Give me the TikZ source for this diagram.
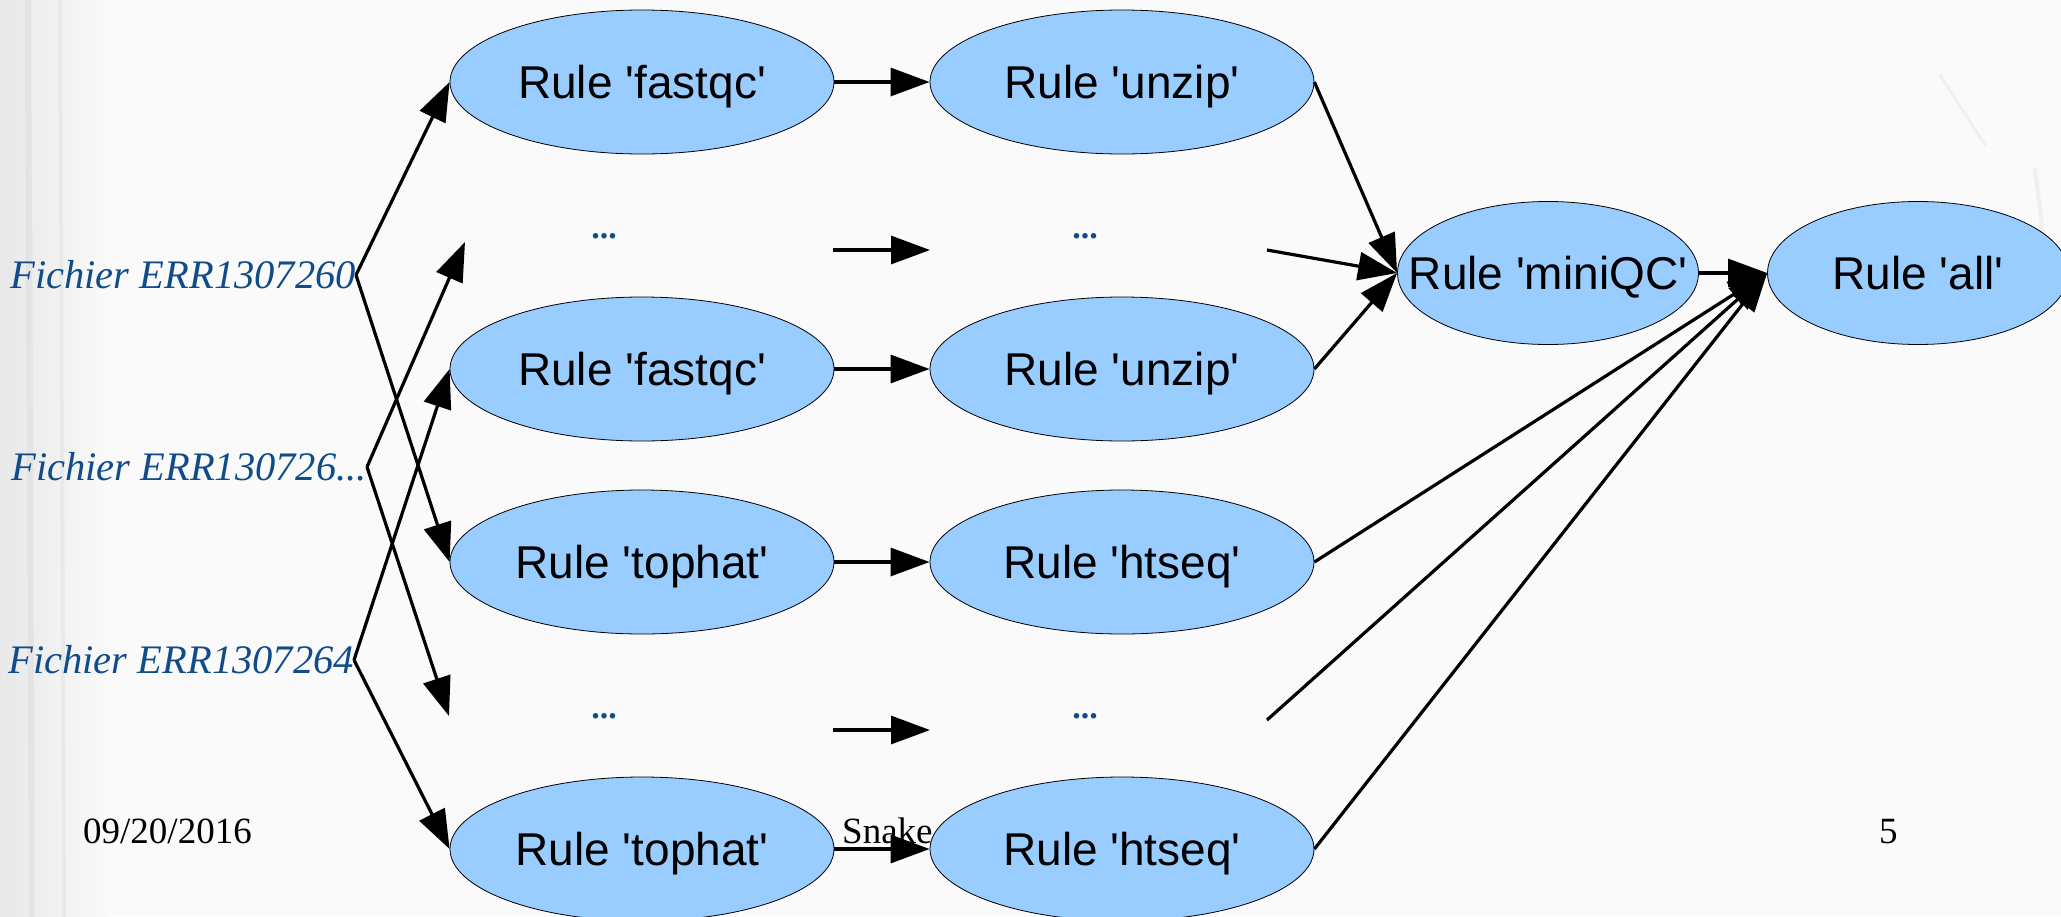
\documentclass[tikz,border=0pt]{standalone}
\usepackage{fontspec}
\setmainfont{Liberation Serif}
\newfontfamily\rulefont{Liberation Sans}
\usetikzlibrary{shapes.geometric,arrows.meta}
\definecolor{rulefill}{RGB}{153,204,255}
\definecolor{fileblue}{RGB}{17,76,138}
\definecolor{slidebg}{RGB}{250,250,250}
% centred text that never widens its ellipse
\newcommand{\rulename}[1]{\makebox[0pt]{#1}}
\begin{document}
\begin{tikzpicture}[x=1pt,y=-1pt,
  rulebox/.style={ellipse, draw=black, line width=0.8pt, fill=rulefill,
    minimum width=384pt, minimum height=144pt, inner sep=0pt,
    font=\rulefont\fontsize{46}{50}\selectfont, text height=33pt, text depth=0pt},
  endbox/.style={rulebox, minimum width=301pt, minimum height=143pt},
  filelabel/.style={font=\itshape\fontsize{40.5}{44}\selectfont, text=fileblue,
    inner sep=0pt, anchor=east},
  dotstext/.style={font=\bfseries\fontsize{34}{40}\selectfont, text=fileblue, inner sep=0pt},
  footer/.style={font=\fontsize{37}{40}\selectfont, inner sep=0pt, anchor=base west},
  link/.style={line width=3.2pt, -{Triangle[length=39pt,width=28pt]}},
  streak/.style={line width=#1, gray, opacity=0.08, line cap=round}
]
% slide background
\useasboundingbox (0,0) rectangle (2061,916);
\fill[slidebg] (0,0) rectangle (2061,916);
\shade[left color=black!9, right color=slidebg] (0,0) rectangle (110,916);
\draw[streak=6pt] (28,0) -- (32,916);
\draw[streak=4pt] (60,0) -- (64,916);
\draw[streak=3pt] (1940,75) -- (1985,145);
\draw[streak=4pt] (2035,170) -- (2045,250);

% footer
\node[footer] (date) at (83,843) {09/20/2016};
\node[footer] (title) at (842,843) {Snake};
\node[footer] (page) at (1879,843) {5};

% input files
\node[filelabel] (f1) at (356,275) {Fichier ERR1307260};
\node[filelabel] (f2) at (367,467) {Fichier ERR130726...};
\node[filelabel] (f3) at (354,660) {Fichier ERR1307264};

% rule instances
\node[rulebox] (fq1) at (642,82)  {\rulename{Rule 'fastqc'}};
\node[rulebox] (uz1) at (1122,82) {\rulename{Rule 'unzip'}};
\node[rulebox] (fq2) at (642,369)  {\rulename{Rule 'fastqc'}};
\node[rulebox] (uz2) at (1122,369) {\rulename{Rule 'unzip'}};
\node[rulebox] (th1) at (642,562)  {\rulename{Rule 'tophat'}};
\node[rulebox] (hs1) at (1122,562) {\rulename{Rule 'htseq'}};
\node[rulebox] (th2) at (642,849)  {\rulename{Rule 'tophat'}};
\node[rulebox] (hs2) at (1122,849) {\rulename{Rule 'htseq'}};
\node[endbox] (mqc) at (1548,273) {\rulename{Rule 'miniQC'}};
\node[endbox] (all) at (1918,273) {\rulename{Rule 'all'}};

% elided rule instances
\node[dotstext] (e1a) at (604,236) {...};
\node[dotstext] (e1b) at (1085,236) {...};
\node[dotstext] (e2a) at (604,716) {...};
\node[dotstext] (e2b) at (1085,716) {...};
\coordinate (e1ain) at (465,242);
\coordinate (e1aout) at (833,250);
\coordinate (e1bin) at (930,250);
\coordinate (e1bout) at (1267,250);
\coordinate (e2ain) at (449,716);
\coordinate (e2aout) at (833,730);
\coordinate (e2bin) at (930,730);
\coordinate (e2bout) at (1267,720);

% files to first rules
\draw[link] (f1.east) -- (fq1.west);
\draw[link] (f1.east) -- (th1.west);
\draw[link] (f2.east) -- (e1ain);
\draw[link] (f2.east) -- (e2ain);
\draw[link] (f3.east) -- (fq2.west);
\draw[link] (f3.east) -- (th2.west);

% second rules
\draw[link] (fq1.east) -- (uz1.west);
\draw[link] (e1aout) -- (e1bin);
\draw[link] (fq2.east) -- (uz2.west);
\draw[link] (th1.east) -- (hs1.west);
\draw[link] (e2aout) -- (e2bin);
\draw[link] (th2.east) -- (hs2.west);

% aggregation
\draw[link] (uz1.east) -- (mqc.west);
\draw[link] (e1bout) -- (mqc.west);
\draw[link] (uz2.east) -- (mqc.west);
\draw[link] (mqc.east) -- (all.west);
\draw[link] (hs1.east) -- (all.west);
\draw[link] (e2bout) -- (all.west);
\draw[link] (hs2.east) -- (all.west);
\end{tikzpicture}
\end{document}
